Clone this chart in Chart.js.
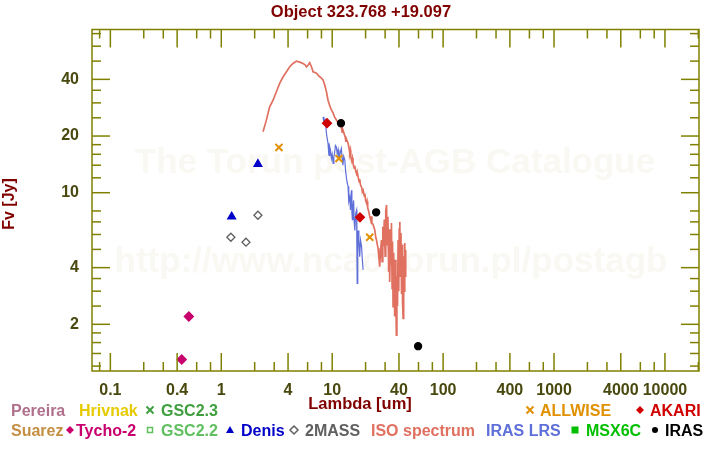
<!DOCTYPE html>
<html>
<head>
<meta charset="utf-8">
<script src="https://cdn.jsdelivr.net/npm/chart.js@4.4.1/dist/chart.umd.min.js"></script>
<style>
  html, body { margin: 0; padding: 0; background: #fff; }
  #wrap { width: 720px; height: 450px; }
</style>
</head>
<body>
<div id="wrap"><canvas id="sed" width="720" height="450"></canvas></div>
<script>
// photometry [lambda um, flux Jy]
const tycho2 = [[0.44, 1.30], [0.51, 2.2]];
const denis = [[1.24, 7.46], [2.14, 14.2]];
const twomass = [[1.22, 5.8], [1.67, 5.46], [2.14, 7.59]];
const allwise = [[3.31, 17.4], [11.5, 15.2], [21.8, 5.8]];
const akari = [[8.98, 23.4], [17.8, 7.4]];
const iras = [[12.0, 23.4], [24.9, 7.87], [59.5, 1.53]];

// ISO SWS spectrum
const isoSpec = [
  [2.38, 21.1], [2.55, 24.3], [2.73, 28.6], [2.93, 31.0], [3.14, 34.4], [3.36, 38.1], [3.61, 41.3],
  [3.87, 43.9], [4.14, 46.7], [4.43, 48.6], [4.76, 50.0], [5.1, 49.4], [5.46, 48.6], [5.7, 47.8],
  [5.86, 46.6], [6.05, 47.5], [6.27, 49.0], [6.5, 46.7], [6.72, 43.9], [7.0, 43.5], [7.21, 43.1],
  [7.5, 42.0], [7.72, 41.3], [8.0, 40.6], [8.26, 39.7], [8.57, 37.3], [8.87, 34.4], [9.17, 31.0],
  [9.5, 29.0], [9.84, 27.5], [10.2, 26.5], [10.5, 25.3], [10.8, 24.6], [11.1, 23.9], [11.4, 23.6],
  [11.7, 22.9], [12.1, 22.2], [12.3, 21.0], [12.5, 21.5], [12.8, 20.6], [13.1, 19.8], [13.3, 18.6],
  [13.4, 19.3], [13.7, 18.7], [13.9, 18.3], [14.2, 17.2], [14.4, 16.2], [14.6, 16.8], [14.7, 15.6],
  [15.0, 14.8], [15.2, 15.3], [15.4, 14.3], [15.8, 13.5], [16.0, 13.9], [16.2, 13.2], [16.6, 12.6],
  [16.8, 12.9], [17.1, 12.2], [17.5, 11.4], [17.7, 11.8], [18.0, 11.0], [18.5, 10.6], [18.7, 10.1],
  [19.0, 10.3], [19.5, 9.6], [19.7, 9.9], [20.0, 9.1], [20.4, 8.8], [20.6, 9.0], [20.9, 8.3],
  [21.3, 8.0], [21.8, 7.46], [22.3, 7.1], [22.5, 7.5], [22.8, 6.9], [23.3, 6.8], [23.7, 6.6],
  [24.2, 6.34], [24.7, 5.8], [25.1, 5.6], [25.5, 5.3], [25.9, 5.07], [26.3, 4.6], [26.8, 4.05],
  [27.3, 4.9], [27.8, 5.6], [28.2, 4.3], [28.6, 6.6], [29.0, 5.2], [29.5, 7.2], [30.0, 4.6],
  [30.4, 8.0], [30.9, 8.6], [31.4, 5.3], [31.8, 7.46], [32.3, 3.8], [32.6, 6.4], [33.0, 3.36],
  [33.5, 5.8], [34.0, 4.2], [34.2, 6.9], [34.7, 3.1], [35.0, 5.5], [35.4, 2.48], [35.8, 4.8],
  [36.2, 3.3], [36.6, 2.2], [37.0, 4.4], [37.5, 2.7], [37.9, 1.75], [38.3, 3.6], [38.8, 2.5],
  [39.3, 5.6], [39.8, 3.0], [40.2, 6.4], [40.7, 7.0], [41.2, 3.6], [41.7, 6.1], [42.2, 2.9],
  [42.7, 5.3], [43.1, 2.6], [43.6, 2.15], [44.1, 4.6], [44.6, 3.0], [45.1, 5.4], [45.6, 3.6],
  [46.0, 4.97]
];

// IRAS LRS spectrum
const irasLrs = [
  [8.27, 25.3], [8.4, 23.8], [8.6, 24.5], [8.74, 22.9], [8.87, 20.7], [9.0, 19.5], [9.17, 18.3],
  [9.3, 16.2], [9.37, 15.8], [9.5, 17.5], [9.64, 16.9], [9.84, 15.2], [10.0, 16.0], [10.2, 14.3],
  [10.35, 15.5], [10.5, 16.2], [10.7, 17.8], [10.9, 17.5], [11.1, 16.1], [11.3, 16.9], [11.5, 15.0],
  [11.7, 15.8], [11.9, 16.6], [12.1, 17.2], [12.3, 15.3], [12.5, 14.0], [12.7, 15.6], [13.0, 14.9],
  [13.2, 13.1], [13.4, 12.2], [13.6, 11.4], [13.9, 10.8], [14.1, 9.0], [14.4, 9.5], [14.6, 8.1],
  [14.9, 10.3], [15.05, 7.9], [15.2, 7.2], [15.4, 8.6], [15.6, 9.1], [15.8, 7.0], [16.0, 6.3],
  [16.3, 7.8], [16.6, 8.1], [16.7, 5.0], [16.8, 3.3], [17.0, 4.8], [17.1, 6.3], [17.4, 5.6],
  [17.7, 4.57], [18.0, 5.6], [18.4, 5.17], [18.7, 4.4], [19.0, 3.89]
];

// axes
const xLabels = [0.1, 0.4, 1, 4, 10, 40, 100, 400, 1000, 4000, 10000];
const xMinor = [0.08, 0.2, 0.3, 0.6, 0.8, 2, 3, 6, 8, 20, 30, 60, 80, 200, 300, 600, 800,
  2000, 3000, 6000, 8000, 20000];
const yLabels = [2, 4, 10, 20, 40];
const yMinor = [1.2, 1.4, 1.6, 1.8, 2.5, 3, 3.5, 5, 6, 7, 8, 12, 14, 16, 18, 25, 30, 35, 50, 60, 70];

const title = "Object 323.768 +19.097";
const watermark = ["The Torun post-AGB Catalogue", "http://www.ncac.torun.pl/postagb"];

const FONT = "'Liberation Sans', Arial, sans-serif";
const olive = "#808000";
const tickText = "#48480f";
const darkRed = "#800000";

const pts = arr => arr.map(p => ({ x: p[0], y: p[1] }));

function marker(label, data, style, color, r, fill) {
  return {
    label: label,
    data: pts(data),
    pointStyle: style,
    pointRadius: r,
    pointHoverRadius: r,
    pointBackgroundColor: fill,
    pointBorderColor: color,
    pointBorderWidth: style === "crossRot" ? 2 : 1.3,
    showLine: false
  };
}

function spectrum(label, data, color, w) {
  return {
    label: label,
    data: pts(data),
    showLine: true,
    borderColor: color,
    borderWidth: w,
    pointRadius: 0,
    tension: 0
  };
}

// small marker shapes for the legend
function glyph(ctx, kind, x, y, color) {
  ctx.save();
  ctx.fillStyle = color;
  ctx.strokeStyle = color;
  ctx.lineWidth = 1.5;
  ctx.beginPath();
  if (kind === "diamond" || kind === "odiamond") {
    ctx.moveTo(x, y - 4); ctx.lineTo(x + 4, y); ctx.lineTo(x, y + 4); ctx.lineTo(x - 4, y); ctx.closePath();
    kind === "diamond" ? ctx.fill() : ctx.stroke();
  } else if (kind === "cross") {
    ctx.lineWidth = 2;
    ctx.moveTo(x - 3.5, y - 3.5); ctx.lineTo(x + 3.5, y + 3.5);
    ctx.moveTo(x + 3.5, y - 3.5); ctx.lineTo(x - 3.5, y + 3.5);
    ctx.stroke();
  } else if (kind === "osquare") {
    ctx.strokeRect(x - 2.5, y - 2.5, 5, 5);
  } else if (kind === "square") {
    ctx.fillRect(x - 3.5, y - 3.5, 7, 7);
  } else if (kind === "triangle") {
    ctx.moveTo(x, y - 4); ctx.lineTo(x + 4, y + 3); ctx.lineTo(x - 4, y + 3); ctx.closePath(); ctx.fill();
  } else if (kind === "dot") {
    ctx.arc(x, y, 3, 0, Math.PI * 2); ctx.fill();
  }
  ctx.restore();
}

// [text, x, baseline, colour, glyph, glyphX]
const legendItems = [
  ["Pereira", 11, 416, "#b0708c"],
  ["Hrivnak", 79, 416, "#e6cb00"],
  ["GSC2.3", 161, 416, "#3f9f3f", "cross", 150],
  ["ALLWISE", 540, 416, "#e09000", "cross", 530],
  ["AKARI", 650, 416, "#d00000", "diamond", 640],
  ["Suarez", 11, 436, "#c48f42"],
  ["Tycho-2", 76, 436, "#c8006e", "diamond", 70],
  ["GSC2.2", 161, 436, "#60c060", "osquare", 150],
  ["Denis", 241, 436, "#0000c8", "triangle", 230],
  ["2MASS", 305, 436, "#606060", "odiamond", 294],
  ["ISO spectrum", 371, 436, "#e07060"],
  ["IRAS LRS", 486, 436, "#5f6fd8"],
  ["MSX6C", 586, 436, "#00c000", "square", 575],
  ["IRAS", 665, 436, "#000000", "dot", 655]
];

const decor = {
  id: "decor",
  beforeDatasetsDraw(chart) {
    const ctx = chart.ctx;
    ctx.save();
    ctx.fillStyle = "#faf8f2";
    ctx.font = "bold 35px " + FONT;
    ctx.textAlign = "center";
    ctx.textBaseline = "middle";
    ctx.fillText(watermark[0], 395, 163);
    ctx.fillText(watermark[1], 391, 262);
    ctx.restore();
  },
  afterDraw(chart) {
    const ctx = chart.ctx, a = chart.chartArea;
    const xs = chart.scales.x, ys = chart.scales.y;
    ctx.save();
    ctx.strokeStyle = olive;
    ctx.lineWidth = 1.5;
    ctx.strokeRect(a.left, a.top, a.right - a.left, a.bottom - a.top);
    const line = (x1, y1, x2, y2) => { ctx.beginPath(); ctx.moveTo(x1, y1); ctx.lineTo(x2, y2); ctx.stroke(); };
    const xt = (v, len) => {
      const p = xs.getPixelForValue(v);
      line(p, a.bottom, p, a.bottom - len);
      line(p, a.top, p, a.top + len);
    };
    const yt = (v, len) => {
      const p = ys.getPixelForValue(v);
      line(a.left, p, a.left + len, p);
      line(a.right, p, a.right - len, p);
    };
    xLabels.forEach(v => xt(v, 18));
    xMinor.forEach(v => xt(v, 9));
    yLabels.forEach(v => yt(v, 18));
    yMinor.forEach(v => yt(v, 9));

    ctx.textAlign = "center";
    ctx.textBaseline = "middle";
    ctx.fillStyle = darkRed;
    ctx.font = "bold 16.5px " + FONT;
    ctx.fillText(title, 361, 12);
    ctx.fillText("Lambda [um]", 360, 404);
    ctx.save();
    ctx.translate(10, 204);
    ctx.rotate(-Math.PI / 2);
    ctx.font = "bold 16px " + FONT;
    ctx.fillText("Fv [Jy]", 0, 0);
    ctx.restore();

    ctx.textAlign = "left";
    ctx.textBaseline = "alphabetic";
    ctx.font = "bold 16px " + FONT;
    legendItems.forEach(it => {
      ctx.fillStyle = it[3];
      ctx.fillText(it[0], it[1], it[2]);
      if (it[4]) glyph(ctx, it[4], it[5], it[2] - 6, it[3]);
    });
    ctx.restore();
  }
};

const tickFont = { family: FONT, size: 16, weight: "bold" };

new Chart(document.getElementById("sed"), {
  type: "scatter",
  data: {
    datasets: [
      marker("IRAS", iras, "circle", "#000000", 3.5, "#000000"),
      marker("AKARI", akari, "rectRot", "#d00000", 4.5, "#d00000"),
      marker("ALLWISE", allwise, "crossRot", "#e09000", 5, "#e09000"),
      marker("2MASS", twomass, "rectRot", "#606060", 4, "rgba(0,0,0,0)"),
      marker("Denis", denis, "triangle", "#0000c8", 4.5, "#0000c8"),
      marker("Tycho-2", tycho2, "rectRot", "#c8006e", 4.5, "#c8006e"),
      spectrum("IRAS LRS", irasLrs, "#5f6fd8", 1.2),
      spectrum("ISO spectrum", isoSpec, "#e07060", 1.7)
    ]
  },
  options: {
    responsive: false,
    animation: false,
    devicePixelRatio: 1,
    layout: { padding: { top: 29.5, right: 21, left: 0, bottom: 0 } },
    plugins: { legend: { display: false }, tooltip: { enabled: false }, title: { display: false } },
    scales: {
      x: {
        type: "logarithmic",
        min: 0.0683,
        max: 20280,
        grid: { display: false },
        border: { display: false },
        afterBuildTicks: s => { s.ticks = xLabels.map(v => ({ value: v })); },
        afterFit: s => { s.height = 79; },
        ticks: {
          autoSkip: false, maxRotation: 0, padding: 2,
          color: tickText, font: tickFont,
          callback: v => String(v)
        }
      },
      y: {
        type: "logarithmic",
        min: 1.13,
        max: 73.6,
        grid: { display: false },
        border: { display: false },
        afterBuildTicks: s => { s.ticks = yLabels.map(v => ({ value: v })); },
        afterFit: s => { s.width = 92; },
        ticks: {
          autoSkip: false, padding: 5,
          color: tickText, font: tickFont,
          callback: v => String(v)
        }
      }
    }
  },
  plugins: [decor]
});
</script>
</body>
</html>
